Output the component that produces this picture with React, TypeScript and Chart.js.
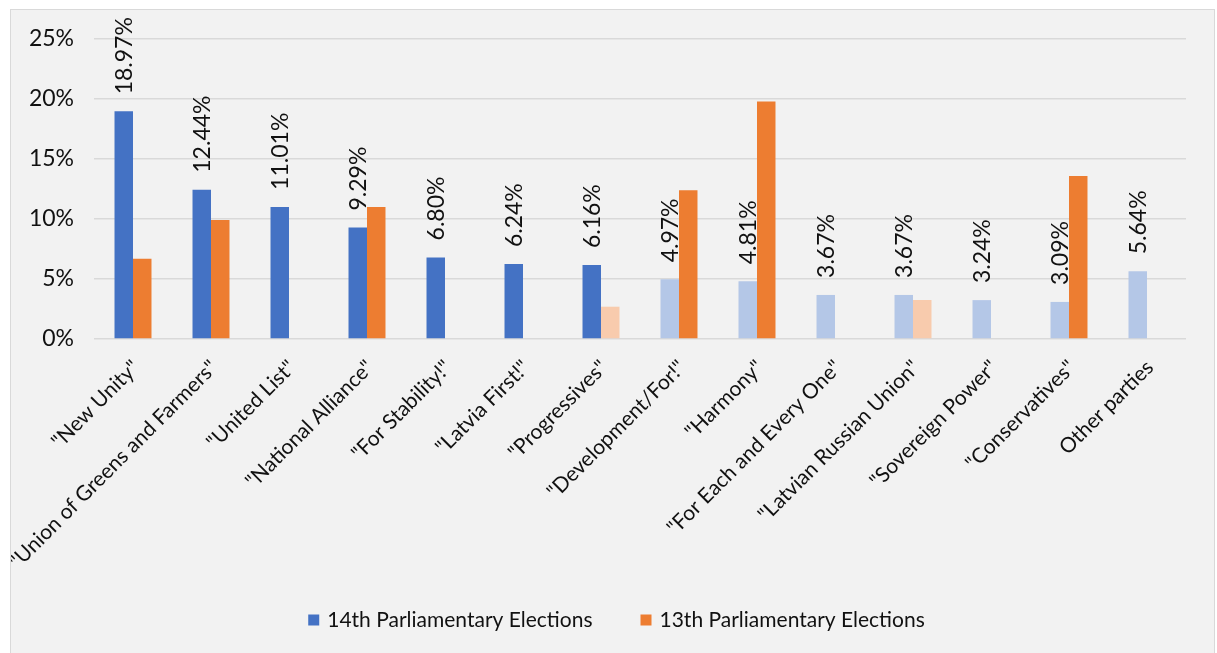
import React, { useEffect, useRef } from "react";
import { Chart, registerables } from "chart.js";

Chart.register(...registerables);

const categories = [
  '"New Unity"',
  '"Union of Greens and Farmers"',
  '"United List"',
  '"National Alliance"',
  '"For Stability!"',
  '"Latvia First!"',
  '"Progressives"',
  '"Development/For!"',
  '"Harmony"',
  '"For Each and Every One"',
  '"Latvian Russian Union"',
  '"Sovereign Power"',
  '"Conservatives"',
  "Other parties",
];

const elections14 = [18.97, 12.44, 11.01, 9.29, 6.8, 6.24, 6.16, 4.97, 4.81, 3.67, 3.67, 3.24, 3.09, 5.64];
const elections13 = [6.69, 9.92, null, 11.0, null, null, 2.69, 12.39, 19.8, null, 3.25, null, 13.58, null];
const dataLabels14 = ["18.97%", "12.44%", "11.01%", "9.29%", "6.80%", "6.24%", "6.16%", "4.97%", "4.81%", "3.67%", "3.67%", "3.24%", "3.09%", "5.64%"];
const seriesLabels = ["14th Parliamentary Elections", "13th Parliamentary Elections"];
const yTickValues = [0, 5, 10, 15, 20, 25];

// styles
const BLUE = "#4472C4";
const BLUE_LIGHT = "#B4C7E7";
const ORANGE = "#ED7D31";
const ORANGE_LIGHT = "#F8CBAD";
const dimmed14 = [false, false, false, false, false, false, false, true, true, true, true, true, true, true];
const dimmed13 = [false, false, false, false, false, false, true, false, false, false, true, false, false, false];
const FONT = "Lato, 'Noto Sans', sans-serif";
const TEXT = "#111111";

const textPlugin = {
  id: "textPlugin",
  afterDatasetsDraw(chart: any) {
    const ctx = chart.ctx;
    const area = chart.chartArea;
    const xs = chart.scales.x;
    ctx.save();
    ctx.fillStyle = TEXT;
    // data labels on the 14th series
    ctx.font = `23px ${FONT}`;
    const meta = chart.getDatasetMeta(0);
    meta.data.forEach((el: any, i: number) => {
      ctx.save();
      ctx.translate(el.x + 1, el.y - 17);
      ctx.rotate(-Math.PI / 2);
      ctx.textAlign = "left";
      ctx.textBaseline = "middle";
      ctx.fillText(dataLabels14[i], 0, 0);
      ctx.restore();
    });
    // rotated category labels
    ctx.font = `21px ${FONT}`;
    categories.forEach((c, i) => {
      const x = xs.getPixelForValue(i);
      ctx.save();
      ctx.translate(x + 3, area.bottom + 25);
      ctx.rotate(-Math.PI / 4);
      ctx.textAlign = "right";
      ctx.textBaseline = "middle";
      ctx.fillText(c, 0, 0);
      ctx.restore();
    });
    // legend
    const colors = [BLUE, ORANGE];
    const box = 11;
    const gap = 8;
    const between = 48;
    const widths = seriesLabels.map((l) => ctx.measureText(l).width);
    const total = widths.reduce((a, w) => a + box + gap + w, 0) + between * (seriesLabels.length - 1);
    let lx = chart.width / 2 + 4 - total / 2;
    const ly = chart.height - 33;
    seriesLabels.forEach((l, i) => {
      ctx.fillStyle = colors[i];
      ctx.fillRect(lx, ly - box / 2, box, box);
      ctx.fillStyle = TEXT;
      ctx.textAlign = "left";
      ctx.textBaseline = "middle";
      ctx.fillText(l, lx + box + gap, ly);
      lx += box + gap + widths[i] + between;
    });
    ctx.restore();
  },
};

export default function App() {
  const ref = useRef<HTMLCanvasElement>(null);
  useEffect(() => {
    if (!ref.current) return;
    const chart = new Chart(ref.current, {
      type: "bar",
      data: {
        labels: categories,
        datasets: [
          {
            label: seriesLabels[0],
            data: elections14,
            backgroundColor: dimmed14.map((d) => (d ? BLUE_LIGHT : BLUE)),
            borderWidth: 0,
            categoryPercentage: 0.474,
            barPercentage: 1,
          },
          {
            label: seriesLabels[1],
            data: elections13 as any,
            backgroundColor: dimmed13.map((d) => (d ? ORANGE_LIGHT : ORANGE)),
            borderWidth: 0,
            categoryPercentage: 0.474,
            barPercentage: 1,
          },
        ],
      },
      plugins: [textPlugin],
      options: {
        responsive: false,
        animation: false,
        layout: { padding: { top: 29, right: 28, left: 0, bottom: 0 } },
        plugins: {
          legend: { display: false },
          tooltip: { enabled: false },
        },
        scales: {
          x: {
            grid: { display: false },
            border: { display: false },
            ticks: { display: false },
            afterFit: (s: any) => {
              s.height = 643 - 329;
              s.paddingLeft = 0;
              s.paddingRight = 0;
            },
          },
          y: {
            min: 0,
            max: 25,
            afterBuildTicks: (s: any) => {
              s.ticks = yTickValues.map((v) => ({ value: v }));
            },
            grid: { color: "#d9d9d9", lineWidth: 1.5, drawTicks: false },
            border: { display: false },
            ticks: {
              padding: 20,
              color: TEXT,
              font: { family: FONT, size: 23 },
              callback: (v: any) => `${v}%`,
            },
            afterFit: (s: any) => {
              s.width = 83;
              s.paddingTop = 0;
              s.paddingBottom = 0;
            },
          },
        },
      },
    });
    return () => chart.destroy();
  }, []);
  return (
    <div
      style={{
        position: "absolute",
        left: 10,
        top: 9,
        width: 1205,
        height: 644,
        boxSizing: "border-box",
        background: "#f2f2f2",
        border: "1px solid #d9d9d9",
        borderBottom: "none",
      }}
    >
      <canvas ref={ref} width={1203} height={643} style={{ display: "block" }} />
    </div>
  );
}
